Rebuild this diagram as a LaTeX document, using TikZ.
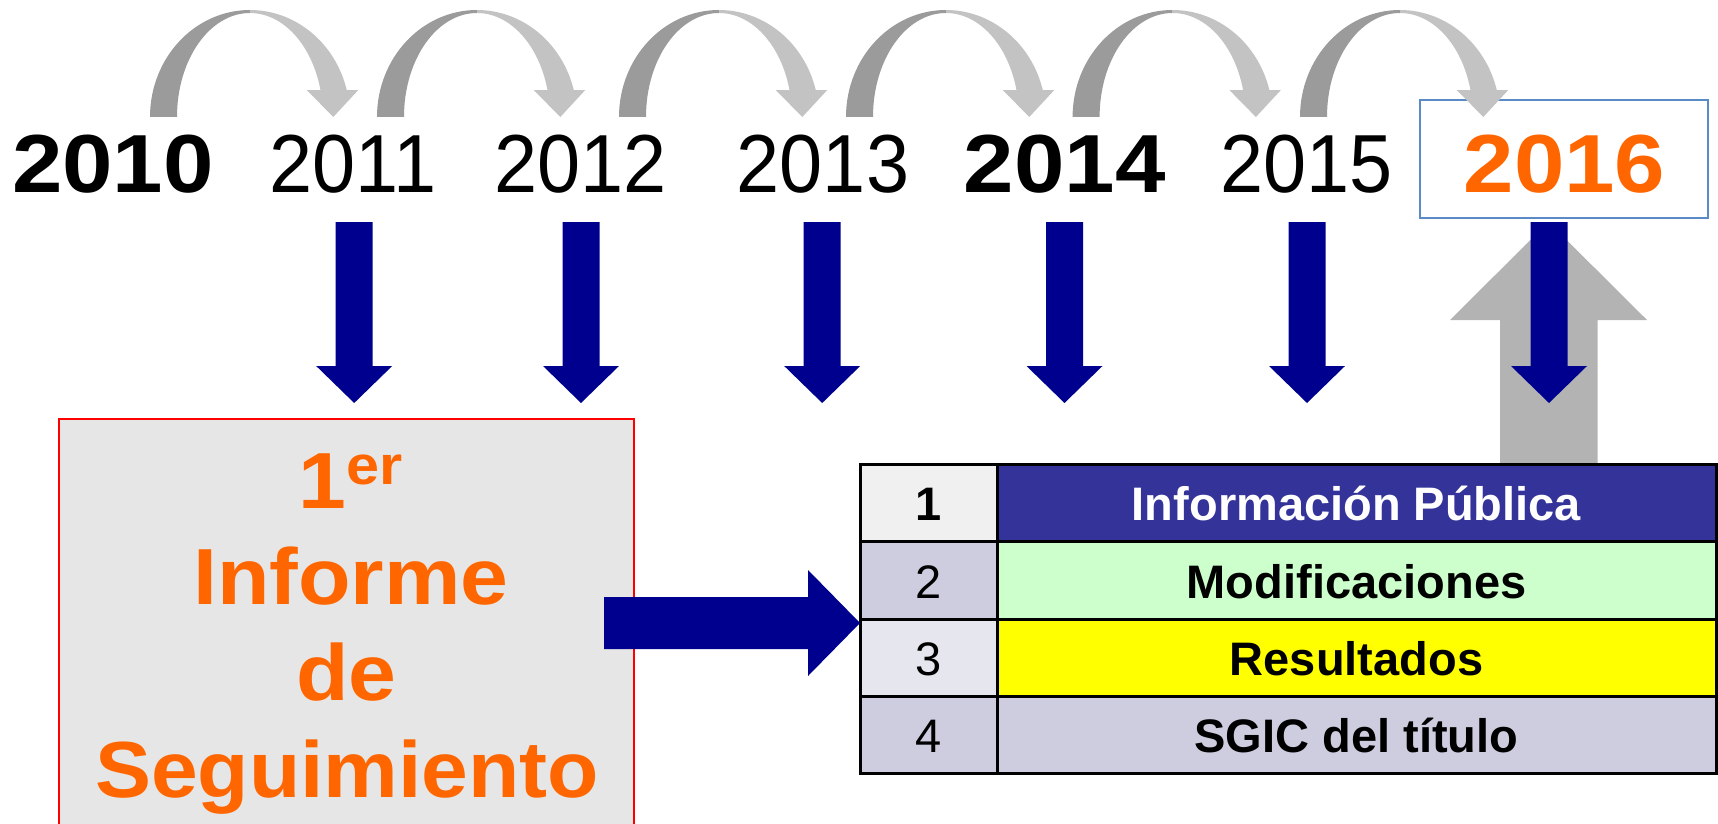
\documentclass[tikz,border=0pt]{standalone}
\usepackage{fontspec}
\setmainfont{Liberation Sans}
\newfontfamily\yrregf[FakeStretch=0.94]{Liberation Sans}
\newfontfamily\yrboldf[FakeStretch=1.10]{Liberation Sans}
\newfontfamily\boxfontf[FakeStretch=1.08]{Liberation Sans}
\newfontfamily\boxfontn[FakeStretch=1.055]{Liberation Sans}
\newfontfamily\tabfontf{Liberation Sans}
\definecolor{navyc}{HTML}{00008F}
\definecolor{arcdark}{HTML}{9B9B9B}
\definecolor{arclight}{HTML}{C3C3C3}
\definecolor{upgray}{HTML}{B3B3B3}
\definecolor{orangec}{HTML}{FF6600}
\definecolor{boxblue}{HTML}{5B8BC6}
\definecolor{boxgray}{HTML}{E6E6E6}
\definecolor{rowone}{HTML}{333399}
\definecolor{rowtwo}{HTML}{CCFFCC}
\definecolor{rowthree}{HTML}{FFFF00}
\definecolor{numgray}{HTML}{CDCDDF}
\definecolor{numlight}{HTML}{F0F0F0}
\definecolor{numthree}{HTML}{E6E6EE}
\newcommand\jumparc[1]{%
  \fill[arcdark] ({#1-100},117) arc[start angle=180,end angle=270,x radius=100,y radius=107]
    -- ({#1},13) arc[start angle=270,end angle=180,x radius=73,y radius=104] -- cycle;
  \fill[arclight] ({#1},10) arc[start angle=270,end angle=345.4,x radius=100,y radius=107]
    -- ({#1+108.3},90) -- ({#1+83.3},117) -- ({#1+56.7},90) -- ({#1+70.5},90.1)
    arc[start angle=345,end angle=270,x radius=73,y radius=104] -- cycle;
}
\newcommand\downarr[1]{%
  \fill[navyc] ({#1-18.5},222) -- ({#1+18.5},222) -- ({#1+18.5},366) -- ({#1+38},366)
    -- ({#1},403) -- ({#1-38},366) -- ({#1-18.5},366) -- cycle;
}
\tikzset{
  yr/.style={anchor=base, inner sep=0pt, font=\yrregf\fontsize{82.4}{90}\selectfont},
  yrb/.style={anchor=base, inner sep=0pt, font=\yrboldf\bfseries\fontsize{82.4}{90}\selectfont},
  boxtxt/.style={anchor=base, inner sep=0pt, text=orangec, font=\boxfontf\bfseries\fontsize{79.6}{90}\selectfont},
  tabname/.style={anchor=base, inner sep=0pt, font=\tabfontf\bfseries\fontsize{47}{50}\selectfont},
  tabnum/.style={anchor=base, inner sep=0pt, font=\tabfontf\fontsize{47}{50}\selectfont},
  tabline/.style={draw=black, line width=3pt},
}
\begin{document}
\begin{tikzpicture}[x=1pt,y=-1pt]
\useasboundingbox (0,0) rectangle (1718,824);
% red box
\fill[boxgray] (59,419) rectangle (634,824);
\draw[red, line width=2pt] (59,824) -- (59,419) -- (634,419) -- (634,824);
\node[boxtxt] (first) at (350.5,508) {1\raisebox{24pt}{\fontsize{55}{55}\selectfont er}};
\node[boxtxt] (informe) at (351,604) {Informe};
\node[boxtxt] (de) at (346.5,700) {de};
\node[boxtxt, font=\boxfontn\bfseries\fontsize{79.6}{90}\selectfont] (segui) at (347,797) {Seguimiento};
% gray up arrow
\fill[upgray] (1500,464) -- (1500,320) -- (1450,320) -- (1548.5,222) -- (1647,320)
  -- (1597.7,320) -- (1597.7,464) -- cycle;
% table
\fill[numlight] (860,464) rectangle (997,541.7);
\fill[rowone] (997,464) rectangle (1716,541.7);
\fill[numgray] (860,541.7) rectangle (997,619.3);
\fill[rowtwo] (997,541.7) rectangle (1716,619.3);
\fill[numthree] (860,619.3) rectangle (997,696.7);
\fill[rowthree] (997,619.3) rectangle (1716,696.7);
\fill[numgray] (860,696.7) rectangle (1716,773);
\draw[tabline] (860,464) rectangle (1716,773);
\draw[tabline] (997,464) -- (997,773);
\draw[tabline] (860,541.7) -- (1716,541.7);
\draw[tabline] (860,619.3) -- (1716,619.3);
\draw[tabline] (860,696.7) -- (1716,696.7);
\node[tabnum, font=\tabfontf\bfseries\fontsize{47}{50}\selectfont] (n1) at (928.5,520) {1};
\node[tabnum] (n2) at (928.5,598) {2};
\node[tabnum] (n3) at (928.5,675.5) {3};
\node[tabnum] (n4) at (928.5,752.5) {4};
\node[tabname, text=white] (t1) at (1356.5,520) {Información Pública};
\node[tabname] (t2) at (1356.5,598) {Modificaciones};
\node[tabname] (t3) at (1356.5,675.5) {Resultados};
\node[tabname] (t4) at (1356.5,752.5) {SGIC del título};
% 2016 box and years
\draw[boxblue, line width=1.8pt] (1420,100) rectangle (1708,218);
\node[yrb] (y2010) at (113,192) {2010};
\node[yr] (y2011) at (353,192) {2011};
\node[yr] (y2012) at (580.3,192) {2012};
\node[yr] (y2013) at (823,192) {2013};
\node[yrb] (y2014) at (1064.8,192) {2014};
\node[yr] (y2015) at (1306.5,192) {2015};
\node[yrb, text=orangec] (y2016) at (1564.5,192) {2016};
% jump arcs
\jumparc{250}
\jumparc{477}
\jumparc{719}
\jumparc{946}
\jumparc{1172.6}
\jumparc{1400}
% down arrows
\downarr{354.2}
\downarr{581}
\downarr{822.2}
\downarr{1064.5}
\downarr{1307}
\downarr{1549}
% horizontal arrow
\fill[navyc] (604,597) -- (808,597) -- (808,570) -- (860,623) -- (808,676) -- (808,649)
  -- (604,649) -- cycle;
\end{tikzpicture}
\end{document}
